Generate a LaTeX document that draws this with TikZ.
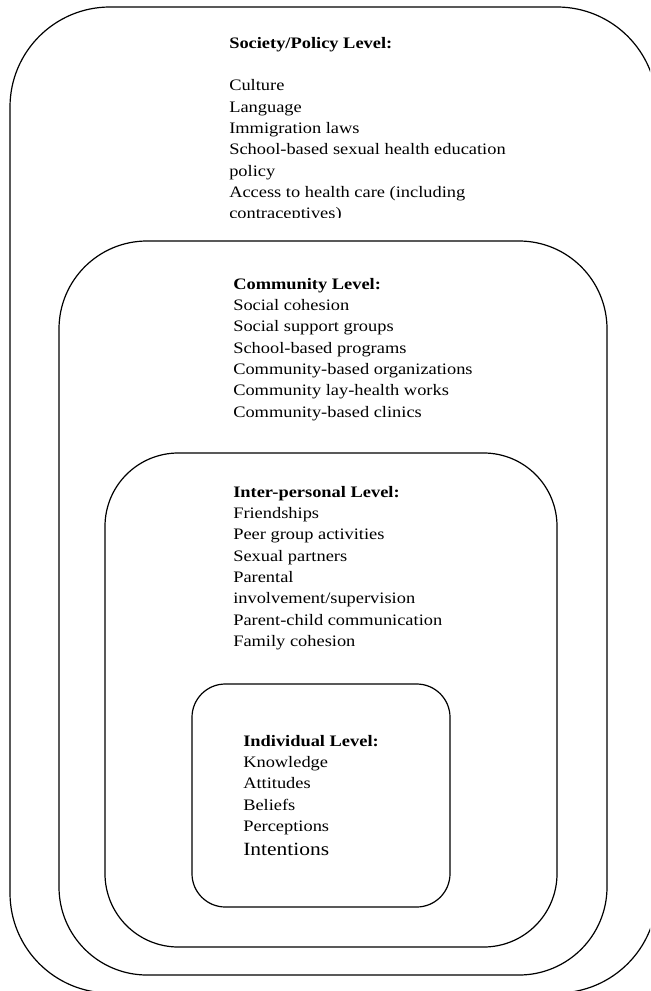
\documentclass[tikz,border=0pt]{standalone}
\usepackage{fontspec}
\setmainfont[FakeStretch=1.15]{Liberation Serif}
\begin{document}
\begin{tikzpicture}[x=0.75pt,y=-0.75pt]
\tikzstyle{every node}+=[inner sep=0pt]
\tikzstyle{ring}=[black, line width=0.9pt]
\tikzstyle{list}=[anchor=north west, align=left, font=\fontsize{12}{16}\selectfont]
\useasboundingbox (0,0) rectangle (650,991);
\begin{scope}
\clip (0,0) rectangle (650,991);
\draw [ring, rounded corners=75pt] (10,7) rectangle (657,993);
\end{scope}
\draw [ring, rounded corners=66pt] (59,241) rectangle (607,975);
\draw [ring, rounded corners=55pt] (105,453) rectangle (557,947);
\draw [ring, rounded corners=25pt] (192,684) rectangle (450,907);
\begin{scope}
\clip (0,0) rectangle (650,218);
\node [list] (society) at (229,33) {\strut\textbf{Society/Policy Level:}\\[16pt]
Culture\\ Language\\ Immigration laws\\ School-based sexual health education\\ policy\\
Access to health care (including\\ contraceptives)};
\end{scope}
\node [list] (community) at (233,274) {\strut\textbf{Community Level:}\\ Social cohesion\\
Social support groups\\ School-based programs\\ Community-based organizations\\
Community lay-health works\\ Community-based clinics};
\node [list] (interpersonal) at (233,482) {\strut\textbf{Inter-personal Level:}\\ Friendships\\
Peer group activities\\ Sexual partners\\ Parental\\ involvement/supervision\\
Parent-child communication\\ Family cohesion};
\node [list] (individual) at (243,731) {\strut\textbf{Individual Level:}\\ Knowledge\\
Attitudes\\ Beliefs\\ Perceptions\\[2pt] {\fontsize{14}{16}\selectfont Intentions}};
\end{tikzpicture}
\end{document}
